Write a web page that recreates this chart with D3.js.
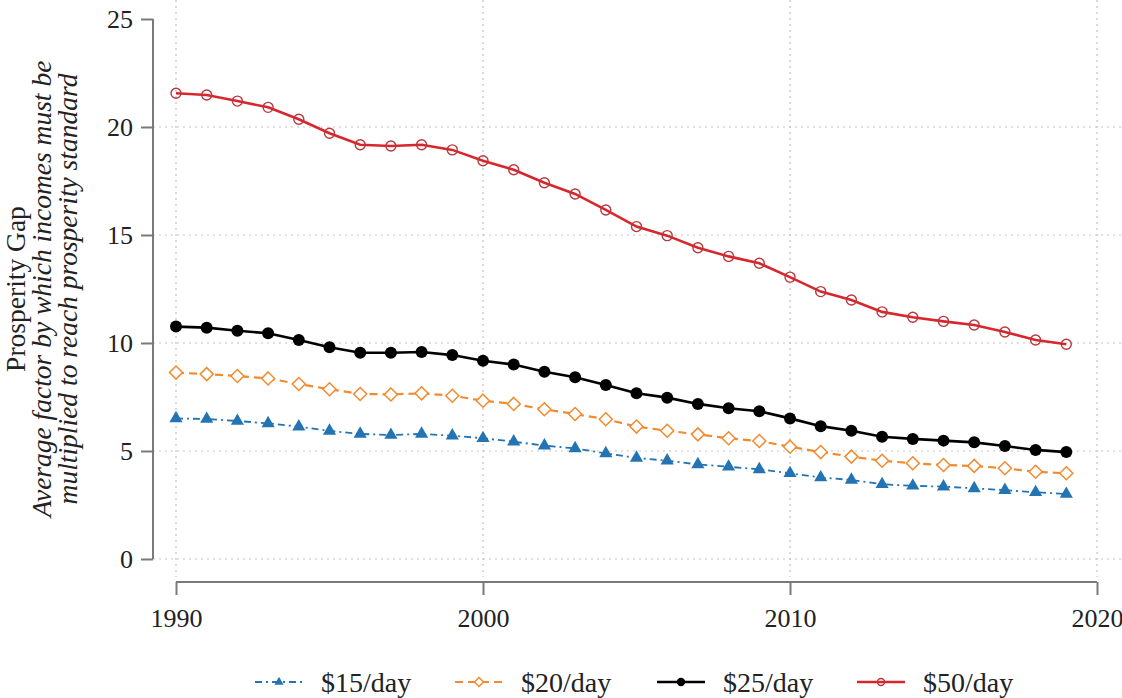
<!DOCTYPE html>
<html>
<head>
<meta charset="utf-8">
<script src="https://cdn.jsdelivr.net/npm/d3@7"></script>
<style>
  html, body { margin: 0; padding: 0; background: #fff; }
  svg { display: block; font-family: "Liberation Serif", "Times New Roman", Times, serif; }
</style>
</head>
<body>
<svg id="chart" width="1122" height="698"></svg>
<script>
// Prosperity gap by poverty line, 1990-2019
const years = d3.range(1990, 2020);
const gap15 = [6.51, 6.48, 6.39, 6.28, 6.13, 5.93, 5.79, 5.74, 5.79, 5.71, 5.59, 5.43, 5.25, 5.12, 4.89, 4.68, 4.55, 4.38, 4.27, 4.15, 3.97, 3.77, 3.66, 3.46, 3.39, 3.35, 3.27, 3.19, 3.09, 3.01];
const gap20 = [8.63, 8.56, 8.47, 8.36, 8.10, 7.86, 7.64, 7.62, 7.67, 7.56, 7.33, 7.18, 6.93, 6.71, 6.47, 6.13, 5.94, 5.77, 5.59, 5.46, 5.20, 4.95, 4.74, 4.55, 4.43, 4.35, 4.31, 4.20, 4.04, 3.97];
const gap25 = [10.76, 10.71, 10.57, 10.45, 10.14, 9.80, 9.55, 9.55, 9.58, 9.44, 9.18, 9.00, 8.67, 8.41, 8.06, 7.67, 7.47, 7.18, 6.98, 6.84, 6.51, 6.15, 5.94, 5.66, 5.56, 5.48, 5.40, 5.23, 5.05, 4.95];
const gap50 = [21.56, 21.48, 21.20, 20.91, 20.36, 19.71, 19.18, 19.12, 19.18, 18.94, 18.44, 18.02, 17.42, 16.90, 16.16, 15.39, 14.97, 14.41, 14.01, 13.69, 13.05, 12.38, 11.99, 11.44, 11.19, 11.00, 10.83, 10.51, 10.14, 9.94];
const seriesNames = ["$15/day", "$20/day", "$25/day", "$50/day"];
const xTicks = [1990, 2000, 2010, 2020];
const yTicks = [0, 5, 10, 15, 20, 25];
const yTitle = "Prosperity Gap";
const ySubtitle = ["Average factor by which incomes must be", "multiplied to reach prosperity standard"];

const styles = [
  { color: "#2474b3", dash: "7,4,2,4", width: 1.8, marker: "triangle" },
  { color: "#f28a2e", dash: "8,5", width: 2.2, marker: "diamond" },
  { color: "#000000", dash: null, width: 2.6, marker: "dot" },
  { color: "#d8262c", dash: null, width: 2.6, marker: "circle" }
];
const values = [gap15, gap20, gap25, gap50];

const svg = d3.select("#chart");
const x = d3.scaleLinear().domain([1990, 2020]).range([176, 1097]);
const y = d3.scaleLinear().domain([0, 25]).range([559, 19]);

// dotted grid
const grid = svg.append("g");
grid.selectAll("line.h").data(yTicks.filter(t => t < 25)).join("line")
  .attr("x1", 153).attr("x2", 1122)
  .attr("y1", d => y(d)).attr("y2", d => y(d))
  .attr("stroke", "#c4c4c4").attr("stroke-width", 1.2).attr("stroke-dasharray", "2,4");
grid.selectAll("line.v").data(xTicks).join("line")
  .attr("x1", d => x(d)).attr("x2", d => x(d))
  .attr("y1", 0).attr("y2", 577)
  .attr("stroke", "#c4c4c4").attr("stroke-width", 1.2).attr("stroke-dasharray", "2,4");

// axes
const yAxis = svg.append("g").attr("transform", "translate(153,0)")
  .call(d3.axisLeft(y).tickValues(yTicks).tickSize(12).tickPadding(8));
const xAxis = svg.append("g").attr("transform", "translate(0,582)")
  .call(d3.axisBottom(x).tickValues(xTicks).tickFormat(d3.format("d")).tickSize(13).tickPadding(14));
[yAxis, xAxis].forEach(a => {
  a.attr("font-family", null);
  a.select(".domain").attr("stroke", "#7a7a7a").attr("stroke-width", 2);
  a.selectAll(".tick line").attr("stroke", "#7a7a7a").attr("stroke-width", 2);
  a.selectAll(".tick text").attr("fill", "#222").style("font-size", "26px");
});
yAxis.select(".domain").attr("d", `M0,${y(25)}V${y(0)}`);
xAxis.select(".domain").attr("d", `M${x(1990)},0H${x(2020)}`);

// y title
const tg = svg.append("g").attr("transform", `translate(0,${(y(0) + y(25)) / 2}) rotate(-90)`);
tg.append("text").attr("x", 0).attr("y", 25).attr("text-anchor", "middle")
  .style("font-size", "27.5px").attr("fill", "#222").text(yTitle);
ySubtitle.forEach((t, i) => {
  tg.append("text").attr("x", 0).attr("y", 51 + i * 26).attr("text-anchor", "middle")
    .style("font-size", "27.5px").style("font-style", "italic").attr("fill", "#222").text(t);
});

// markers
function drawMarker(sel, kind, color, s) {
  if (kind === "triangle") {
    sel.append("path").attr("d", d3.symbol(d3.symbolTriangle, 75 * s * s)())
      .attr("fill", color);
  } else if (kind === "diamond") {
    const h = 6.5 * s;
    sel.append("path").attr("d", `M0,${-h}L${h},0L0,${h}L${-h},0Z`)
      .attr("fill", "#fff").attr("stroke", color).attr("stroke-width", 1.5);
  } else if (kind === "dot") {
    sel.append("circle").attr("r", 6 * s).attr("fill", color);
  } else {
    sel.append("circle").attr("r", 5 * s).attr("fill", "none")
      .attr("stroke", "#b8383c").attr("stroke-width", 1.4);
  }
}

const line = d3.line().x(d => x(d[0])).y(d => y(d[1]));
values.forEach((vals, i) => {
  const st = styles[i];
  const pts = years.map((yr, j) => [yr, vals[j]]);
  const g = svg.append("g");
  g.append("path").attr("d", line(pts)).attr("fill", "none")
    .attr("stroke", st.color).attr("stroke-width", st.width)
    .attr("stroke-dasharray", st.dash);
  pts.forEach(p => {
    const m = g.append("g").attr("transform", `translate(${x(p[0])},${y(p[1])})`);
    drawMarker(m, st.marker, st.color, 1);
  });
});

// legend
const legendX = [255, 455, 657, 857];
const legendY = 682;
seriesNames.forEach((name, i) => {
  const st = styles[i];
  const g = svg.append("g").attr("transform", `translate(${legendX[i]},${legendY})`);
  g.append("line").attr("x1", 0).attr("x2", 48).attr("y1", 0).attr("y2", 0)
    .attr("stroke", st.color).attr("stroke-width", st.width).attr("stroke-dasharray", st.dash);
  const m = g.append("g").attr("transform", "translate(24,0)");
  drawMarker(m, st.marker, st.color, 0.7);
  g.append("text").attr("x", 66).attr("y", 0).attr("dy", "0.35em")
    .style("font-size", "28px").attr("fill", "#222").text(name);
});
</script>
</body>
</html>
